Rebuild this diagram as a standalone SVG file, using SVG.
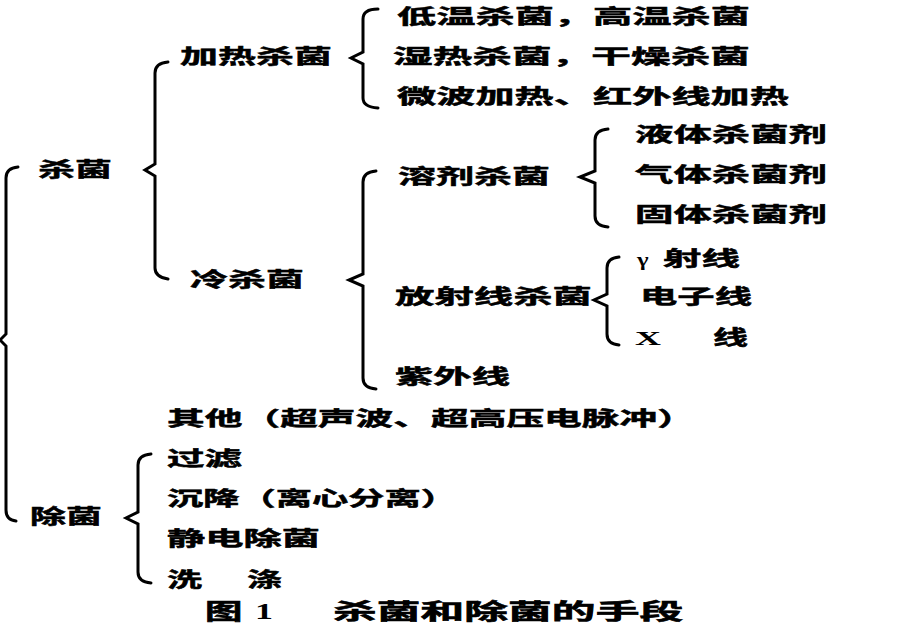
<svg xmlns="http://www.w3.org/2000/svg" width="920" height="637" viewBox="0 0 920 637">
<defs>
<style>
.t{font-family:"Noto Sans CJK SC","Noto Sans",sans-serif;font-weight:bold;font-size:20px;fill:#000;stroke:#000;stroke-width:0.5px;}
.l{font-family:"Liberation Serif",serif;font-weight:bold;fill:#000;}
.cap{font-family:"Noto Sans CJK SC","Noto Sans",sans-serif;font-weight:bold;font-size:22px;fill:#000;stroke:#000;stroke-width:0.6px;}
.b{fill:none;stroke:#000;stroke-width:3;stroke-linejoin:miter;stroke-linecap:round;}
</style>
</defs>
<rect width="920" height="637" fill="#fff"/>
<g id="connectors">
<path class="b" d="M18,167 Q6,168 6,178 L6,334 L0,340 L6,346 L6,510 Q6,520 16,521"/>
<path class="b" d="M168,62 Q155,63 155,73 L155,164 L145,170 L155,176 L155,268 Q155,277 168,279"/>
<path class="b" d="M378,9 Q363,9 363,19 L363,52 L351,58 L363,64 L363,98 Q363,107 378,108"/>
<path class="b" d="M376,171 Q363,172 363,182 L363,274 L349,280 L363,286 L363,378 Q363,388 376,389"/>
<path class="b" d="M608,129 Q595,130 595,140 L595,171 L580,177 L595,183 L595,216 Q595,226 608,227"/>
<path class="b" d="M619,257 Q607,258 607,268 L607,294 L594,300 L607,306 L607,334 Q607,344 619,345"/>
<path class="b" d="M151,454 Q138,455 138,465 L138,512 L126,518 L138,524 L138,572 Q138,582 151,583"/>
</g>
<g id="n-shajun"><text class="t" transform="translate(38,177) scale(1.75,1)" textLength="42.3" lengthAdjust="spacingAndGlyphs">杀菌</text></g>
<g id="n-chujun"><text class="t" transform="translate(30,524) scale(1.75,1)" textLength="41.1" lengthAdjust="spacingAndGlyphs">除菌</text></g>
<g id="n-jiare"><text class="t" transform="translate(180,64) scale(1.75,1)" textLength="86.9" lengthAdjust="spacingAndGlyphs">加热杀菌</text></g>
<g id="n-leng"><text class="t" transform="translate(190,287) scale(1.75,1)" textLength="65.1" lengthAdjust="spacingAndGlyphs">冷杀菌</text></g>
<g id="n-diwen"><text class="t" transform="translate(397,24) scale(1.75,1)" textLength="201.7" lengthAdjust="spacingAndGlyphs">低温杀菌，高温杀菌</text></g>
<g id="n-shire"><text class="t" transform="translate(393,64) scale(1.75,1)" textLength="204" lengthAdjust="spacingAndGlyphs">湿热杀菌，干燥杀菌</text></g>
<g id="n-weibo"><text class="t" transform="translate(397,104) scale(1.75,1)" textLength="224" lengthAdjust="spacingAndGlyphs">微波加热、红外线加热</text></g>
<g id="n-rongji"><text class="t" transform="translate(398,184) scale(1.75,1)" textLength="86.9" lengthAdjust="spacingAndGlyphs">溶剂杀菌</text></g>
<g id="n-fangshe"><text class="t" transform="translate(395,304) scale(1.75,1)" textLength="112.6" lengthAdjust="spacingAndGlyphs">放射线杀菌</text></g>
<g id="n-ziwai"><text class="t" transform="translate(395,384) scale(1.75,1)" textLength="65.7" lengthAdjust="spacingAndGlyphs">紫外线</text></g>
<g id="n-yeti"><text class="t" transform="translate(635,142) scale(1.75,1)" textLength="109.7" lengthAdjust="spacingAndGlyphs">液体杀菌剂</text></g>
<g id="n-qiti"><text class="t" transform="translate(635,182) scale(1.75,1)" textLength="109.7" lengthAdjust="spacingAndGlyphs">气体杀菌剂</text></g>
<g id="n-guti"><text class="t" transform="translate(635,222) scale(1.75,1)" textLength="109.7" lengthAdjust="spacingAndGlyphs">固体杀菌剂</text></g>
<g id="n-gamma"><text class="l" transform="translate(637,266) scale(1.3,1)" font-size="19">γ</text><text class="t" transform="translate(663,266) scale(1.75,1)" textLength="44" lengthAdjust="spacingAndGlyphs">射线</text></g>
<g id="n-dianzi"><text class="t" transform="translate(640,304) scale(1.75,1)" textLength="64" lengthAdjust="spacingAndGlyphs">电子线</text></g>
<g id="n-x"><text class="l" transform="translate(635,345) scale(2,1)" font-size="18">X</text><text class="t" transform="translate(713,345) scale(1.75,1)">线</text></g>
<g id="n-qita"><text class="t" transform="translate(167,426) scale(1.75,1)" textLength="301.7" lengthAdjust="spacingAndGlyphs">其他（超声波、超高压电脉冲）</text></g>
<g id="n-guolv"><text class="t" transform="translate(167,466) scale(1.75,1)" textLength="42.9" lengthAdjust="spacingAndGlyphs">过滤</text></g>
<g id="n-chenjiang"><text class="t" transform="translate(167,506) scale(1.75,1)" textLength="165.7" lengthAdjust="spacingAndGlyphs">沉降（离心分离）</text></g>
<g id="n-jingdian"><text class="t" transform="translate(167,546) scale(1.75,1)" textLength="87.4" lengthAdjust="spacingAndGlyphs">静电除菌</text></g>
<g id="n-xidi"><text class="t" transform="translate(167,587) scale(1.75,1)">洗</text><text class="t" transform="translate(247,587) scale(1.75,1)">涤</text></g>
<g id="caption"><text class="cap" transform="translate(205,619) scale(1.7,1)">图</text><text class="l" transform="translate(255,619) scale(1.5,1)" font-size="24">1</text><text class="cap" transform="translate(333,619) scale(1.7,1)" textLength="206" lengthAdjust="spacingAndGlyphs">杀菌和除菌的手段</text></g>
</svg>
